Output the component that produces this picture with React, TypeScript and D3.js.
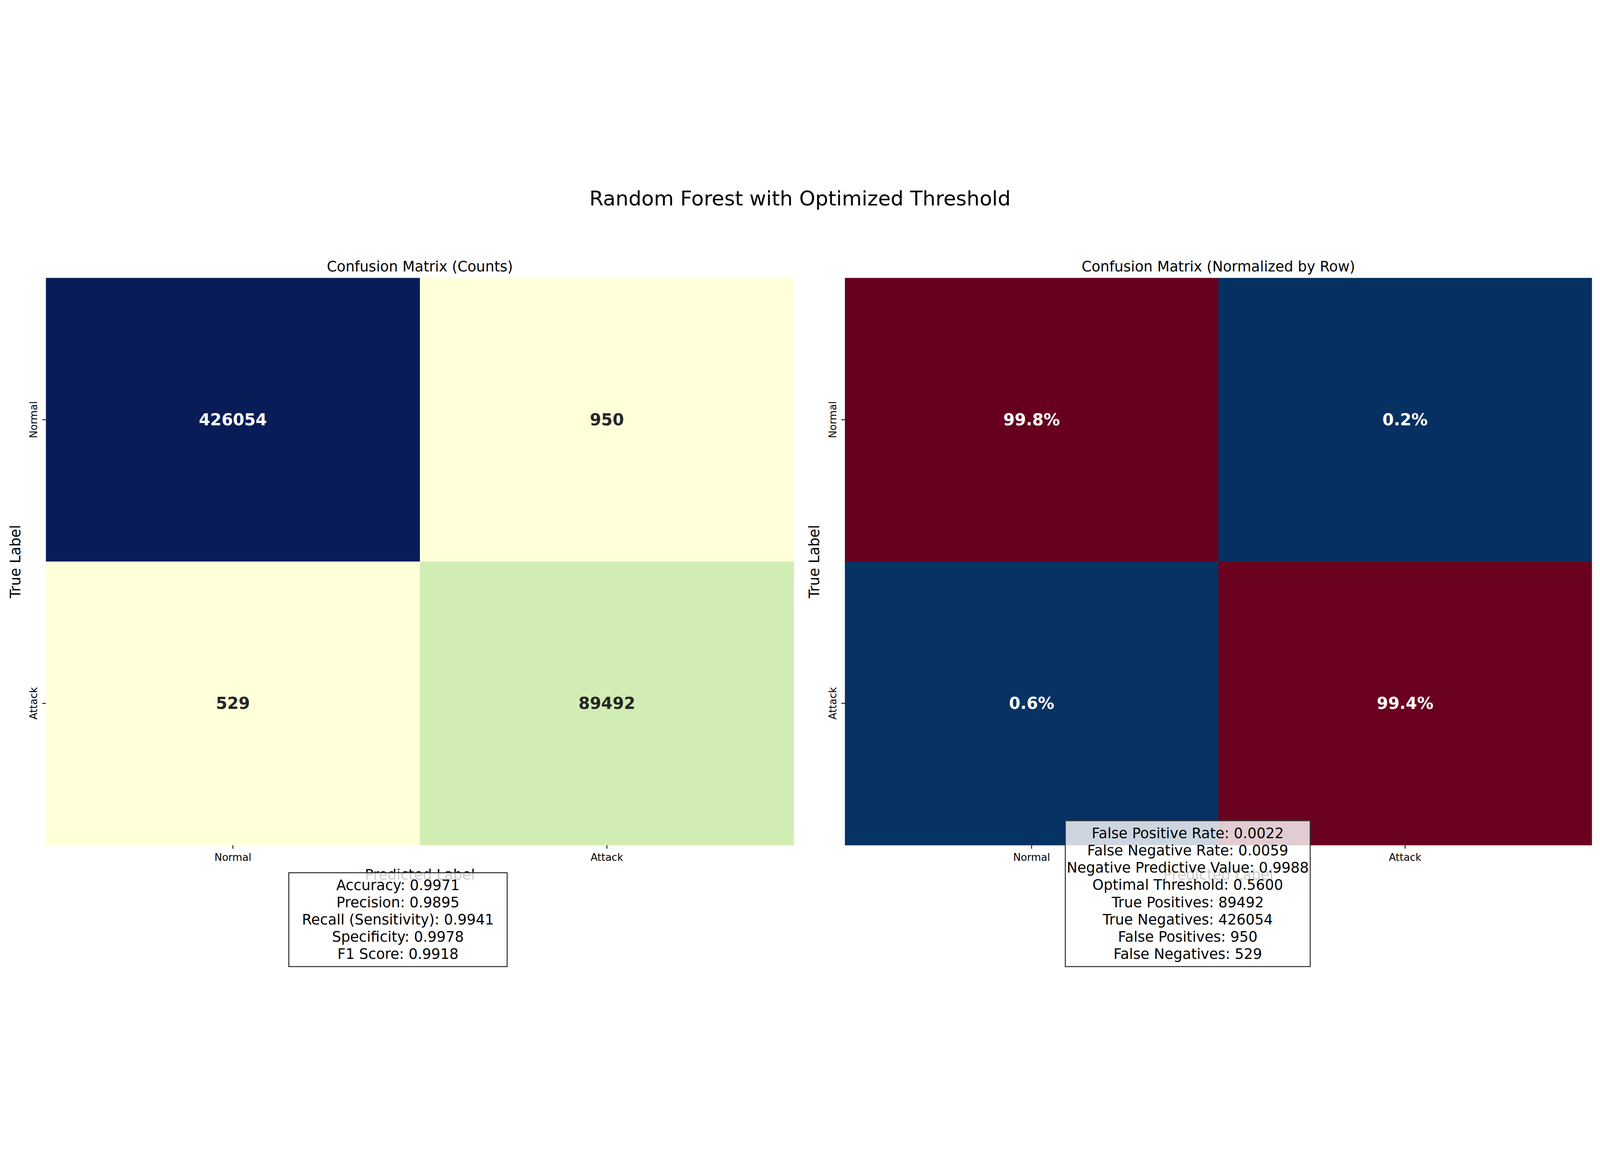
import * as d3 from "d3";
import React, { useEffect, useRef } from "react";

const W = 5970;
const H = 2952;
const S = W / 1568;

const labels = ["Normal", "Attack"];
const counts = [
    [426054, 950],
    [529, 89492],
];
const leftStats = [
    "Accuracy: 0.9971",
    "Precision: 0.9895",
    "Recall (Sensitivity): 0.9941",
    "Specificity: 0.9978",
    "F1 Score: 0.9918",
];
const rightStats = [
    "False Positive Rate: 0.0022",
    "False Negative Rate: 0.0059",
    "Negative Predictive Value: 0.9988",
    "Optimal Threshold: 0.5600",
    "True Positives: 89492",
    "True Negatives: 426054",
    "False Positives: 950",
    "False Negatives: 529",
];

const font = "DejaVu Sans, sans-serif";

export default function App() {
    const svgRef = useRef<SVGSVGElement | null>(null);

    useEffect(() => {
        document.body.style.margin = "0";
        document.body.style.overflow = "hidden";
        if (!svgRef.current) return;
        const svg = d3.select(svgRef.current);
        svg.selectAll("*").remove();
        svg.attr("width", "100vw").attr("height", "100vh")
            .attr("viewBox", `0 0 ${W} ${H}`)
            .style("display", "block").style("background", "#fff");

        svg.append("text")
            .attr("x", W / 2).attr("y", 17 * S)
            .attr("text-anchor", "middle").attr("dominant-baseline", "central")
            .attr("font-family", font).attr("font-size", 20 * S)
            .text("Random Forest with Optimized Threshold");

        const normed = counts.map((r) => r.map((v) => v / d3.sum(r)));

        const panels = [
            {
                x0: 45, x1: 778, title: "Confusion Matrix (Counts)", values: counts,
                fmt: (v: number) => `${v}`,
                color: (() => {
                    const flat = counts.flat();
                    const s = d3.scaleSequential(d3.interpolateYlGnBu).domain([d3.min(flat)!, d3.max(flat)!]);
                    return (v: number) => s(v);
                })(),
                box: { x0: 283, x1: 497, y0: 678, y1: 770, lines: leftStats },
            },
            {
                x0: 828, x1: 1560, title: "Confusion Matrix (Normalized by Row)", values: normed,
                fmt: (v: number) => `${(v * 100).toFixed(1)}%`,
                color: (() => {
                    const flat = normed.flat();
                    const s = d3.scaleSequential((t: number) => d3.interpolateRdBu(1 - t)).domain([d3.min(flat)!, d3.max(flat)!]);
                    return (v: number) => s(v);
                })(),
                box: { x0: 1044, x1: 1284, y0: 627, y1: 770, lines: rightStats },
            },
        ];

        const y0 = 95 * S, y1 = 651 * S;

        panels.forEach((p) => {
            const g = svg.append("g");
            const x = d3.scaleBand().domain(labels).range([p.x0 * S, p.x1 * S]);
            const y = d3.scaleBand().domain(labels).range([y0, y1]);

            labels.forEach((r, i) => labels.forEach((c, j) => {
                const v = p.values[i][j];
                const fill = p.color(v);
                g.append("rect")
                    .attr("x", x(c)!).attr("y", y(r)!)
                    .attr("width", x.bandwidth() + 0.5).attr("height", y.bandwidth() + 0.5)
                    .attr("fill", fill);
                const lum = d3.hsl(fill).l;
                g.append("text")
                    .attr("x", x(c)! + x.bandwidth() / 2).attr("y", y(r)! + y.bandwidth() / 2)
                    .attr("text-anchor", "middle").attr("dominant-baseline", "central")
                    .attr("font-family", font).attr("font-weight", "bold").attr("font-size", 16 * S)
                    .attr("fill", lum < 0.5 ? "#ffffff" : "#262626")
                    .text(p.fmt(v));
            }));

            labels.forEach((l) => {
                const cx = x(l)! + x.bandwidth() / 2;
                g.append("line").attr("x1", cx).attr("x2", cx).attr("y1", y1).attr("y2", y1 + 3.5 * S)
                    .attr("stroke", "#000").attr("stroke-width", 0.8 * S);
                g.append("text").attr("x", cx).attr("y", y1 + 12 * S)
                    .attr("text-anchor", "middle").attr("dominant-baseline", "central")
                    .attr("font-family", font).attr("font-size", 10 * S).text(l);
                const cy = y(l)! + y.bandwidth() / 2;
                g.append("line").attr("x1", p.x0 * S - 3.5 * S).attr("x2", p.x0 * S).attr("y1", cy).attr("y2", cy)
                    .attr("stroke", "#000").attr("stroke-width", 0.8 * S);
                g.append("text")
                    .attr("transform", `translate(${p.x0 * S - 12 * S},${cy}) rotate(-90)`)
                    .attr("text-anchor", "middle").attr("dominant-baseline", "central")
                    .attr("font-family", font).attr("font-size", 10 * S).text(l);
            });

            g.append("text")
                .attr("x", (p.x0 + p.x1) / 2 * S).attr("y", 84 * S)
                .attr("text-anchor", "middle").attr("dominant-baseline", "central")
                .attr("font-family", font).attr("font-size", 14 * S).text(p.title);

            g.append("text")
                .attr("transform", `translate(${(p.x0 - 30) * S},${(y0 + y1) / 2}) rotate(-90)`)
                .attr("text-anchor", "middle").attr("dominant-baseline", "central")
                .attr("font-family", font).attr("font-size", 14 * S).text("True Label");

            g.append("text")
                .attr("x", (p.x0 + p.x1) / 2 * S).attr("y", 680 * S)
                .attr("text-anchor", "middle").attr("dominant-baseline", "central")
                .attr("font-family", font).attr("font-size", 14 * S).text("Predicted Label");

            const b = p.box;
            g.append("rect")
                .attr("x", b.x0 * S).attr("y", b.y0 * S)
                .attr("width", (b.x1 - b.x0) * S).attr("height", (b.y1 - b.y0) * S)
                .attr("fill", "#ffffff").attr("fill-opacity", 0.8)
                .attr("stroke", "#333").attr("stroke-width", 1 * S);
            const lh = (b.y1 - b.y0 - 8) / b.lines.length;
            b.lines.forEach((t, k) => {
                g.append("text")
                    .attr("x", (b.x0 + b.x1) / 2 * S).attr("y", (b.y0 + 4 + lh * (k + 0.5)) * S)
                    .attr("text-anchor", "middle").attr("dominant-baseline", "central")
                    .attr("font-family", font).attr("font-size", 14 * S).text(t);
            });
        });
    }, []);

    return <svg ref={svgRef} />;
}
